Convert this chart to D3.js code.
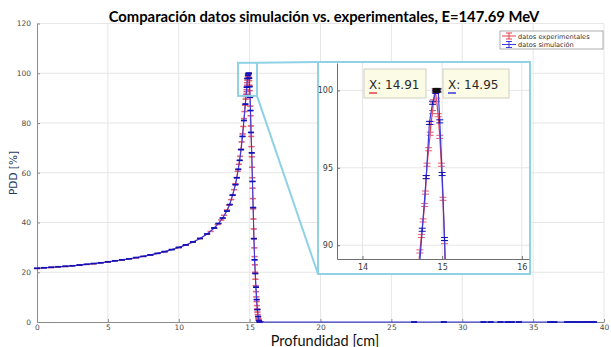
<!DOCTYPE html>
<html>
<head>
<meta charset="utf-8">
<script src="https://cdn.jsdelivr.net/npm/d3@7"></script>
<style>
  body { margin: 0; background: #fff; }
  svg { display: block; }
</style>
</head>
<body>
<svg id="chart" width="611" height="347"></svg>
<script>
// ---- data -------------------------------------------------------------
const titleText = "Comparación datos simulación vs. experimentales, E=147.69 MeV";
const xLabel = "Profundidad [cm]";
const yLabel = "PDD [%]";
const seriesNames = ["datos experimentales", "datos simulación"];

const xTicks = [0, 5, 10, 15, 20, 25, 30, 35, 40];
const yTicks = [0, 20, 40, 60, 80, 100, 120];
const insetXTicks = [14, 15, 16];
const insetYTicks = [90, 95, 100];

// measured depth-dose curve (depth in cm, dose in %)
const expDepth = [0,1,2,3,4,5,6,7,8,9,10,10.5,11,11.5,12,12.25,12.5,12.75,13.0,13.2,13.4,13.55,13.7,13.8,13.9,14.0,
  14.08,14.16,14.24,14.32,14.38,14.44,14.5,14.55,14.6,14.64,14.68,14.72,14.74,14.76,14.78,14.79,14.8,14.81,14.83,14.85,
  14.86,14.88,14.89,14.91,14.93,14.95,14.97,14.99,15.01,15.03,15.05,15.07,15.09,15.11,15.13,15.15,15.17,15.19,15.21,
  15.23,15.25,15.27,15.29,15.31,15.33,15.35,15.37,15.39,15.41,15.43,15.45,15.47,15.49,15.51,15.53,15.55,15.57,15.59,
  15.61,15.63,15.65,15.7,15.8];
const expPdd = [21.5,21.9,22.3,22.8,23.4,24.1,24.9,25.8,26.9,28.2,29.9,30.9,32.1,33.5,35.3,36.4,37.7,39.2,41.0,42.9,45.0,
  47.0,49.2,51.0,53.2,55.6,58.0,60.6,63.4,66.6,69.4,72.4,75.6,78.6,81.8,84.6,87.2,89.6,90.6,91.6,92.6,93.4,94.4,95.2,
  96.2,97.2,97.9,98.6,99.3,100.0,99.4,98.4,97.0,95.2,93.0,90.2,86.8,82.9,78.8,74.6,70.5,66.4,62.2,58.0,53.8,49.6,45.5,
  41.4,37.4,33.5,29.8,26.3,23.0,20.0,17.2,14.6,12.2,10.1,8.2,6.6,5.2,4.0,3.0,2.2,1.5,1.0,0.6,0.3,0.1];
const expErr = 0.1;

// simulated depth-dose curve
const simDepth = [0,0.5,1,1.5,2,2.5,3,3.5,4,4.5,5,5.5,6,6.5,7,7.5,8,8.5,9,9.5,10,10.5,11,11.5,12,12.5,12.8,13.1,13.4,
  13.6,13.8,14.0,14.1,14.2,14.3,14.4,14.5,14.6,14.7,14.75,14.8,14.84,14.88,14.92,14.95,14.97,15.0,15.03,15.06,15.1,
  15.15,15.2,15.25,15.3,15.35,15.4,15.45,15.5,15.55,15.6,15.65,15.7,
  26.6,28.7,31.5,32.0,32.7,33.2,33.5,34.0,36.2,36.5,37.4,37.8,38.2,38.6,39.0,39.3];
const simPdd = [21.6,21.8,22.0,22.2,22.4,22.6,22.9,23.2,23.5,23.8,24.2,24.6,25.0,25.4,25.9,26.4,27.0,27.6,28.3,29.1,
  30.0,31.0,32.2,33.6,35.4,37.8,39.6,41.8,44.6,47.2,51.0,55.2,58.0,61.4,65.0,69.3,74.6,81.0,87.6,91.0,94.4,97.9,99.2,
  99.9,100.0,98.0,94.6,90.4,85.0,76.2,68.0,56.5,46.0,33.5,25.0,19.5,14.0,9.0,5.0,2.2,0.6,0,
  0,0,0,0,0,0,0,0,0,0,0,0,0,0,0,0];
const simErr = 0.1;

// data-tip positions (peak of each curve)
const tipDepth = [14.91, 14.95];
const tipPdd = [100, 100];

// zoom window shown in the inset
const zoomX = [14.18, 15.52];
const zoomY = [90.9, 104.2];

// ---- drawing ----------------------------------------------------------
const svg = d3.select("#chart");
const C = {
  exp: "#e3404a", expBar: "#e65a70",
  sim: "#3a3ae0", simBar: "#1212b8",
  grid: "#e6e6e6", axis: "#8c8c8c", tick: "#4d4d4d",
  zoom: "#8fd2e6"
};

const x = d3.scaleLinear().domain([0, 40]).range([37, 604]);
const y = d3.scaleLinear().domain([0, 120]).range([322, 23.5]);

const expData = d3.zip(expDepth, expPdd);
const simData = d3.zip(simDepth, simPdd);

// grid
const main = svg.append("g");
main.append("g").selectAll("line").data(xTicks.slice(1)).join("line")
  .attr("x1", d => x(d)).attr("x2", d => x(d)).attr("y1", y(0)).attr("y2", y(120))
  .attr("stroke", C.grid).attr("stroke-width", 1);
main.append("g").selectAll("line").data(yTicks.slice(1)).join("line")
  .attr("x1", x(0)).attr("x2", x(40)).attr("y1", d => y(d)).attr("y2", d => y(d))
  .attr("stroke", C.grid).attr("stroke-width", 1);

// axes
const xAxis = d3.axisBottom(x).tickValues(xTicks).tickSizeInner(-3).tickSizeOuter(0).tickPadding(3);
const yAxis = d3.axisLeft(y).tickValues(yTicks).tickSizeInner(-3).tickSizeOuter(0).tickPadding(6);
function styleAxis(g) {
  g.select(".domain").attr("stroke", C.axis);
  g.selectAll(".tick line").attr("stroke", C.axis);
  g.selectAll(".tick text").attr("fill", C.tick).attr("font-family", "DejaVu Sans").attr("font-size", 7.5);
}
main.append("g").attr("transform", `translate(0,${y(0)})`).call(xAxis).call(styleAxis);
main.append("g").attr("transform", `translate(${x(0)},0)`).call(yAxis).call(styleAxis);

// one curve with error bars
function drawSeries(g, data, err, xs, ys, lineColor, barColor, lineW, capW, barW) {
  g.append("path").datum(data)
    .attr("d", d3.line().x(d => xs(d[0])).y(d => ys(d[1])))
    .attr("fill", "none").attr("stroke", lineColor).attr("stroke-width", lineW);
  const bars = g.append("g").attr("stroke", barColor).attr("stroke-width", barW);
  data.forEach(d => {
    const cx = xs(d[0]), y0 = ys(d[1] - err), y1 = ys(d[1] + err);
    bars.append("line").attr("x1", cx).attr("x2", cx).attr("y1", y0).attr("y2", y1);
    bars.append("line").attr("x1", cx - capW / 2).attr("x2", cx + capW / 2).attr("y1", y0).attr("y2", y0);
    bars.append("line").attr("x1", cx - capW / 2).attr("x2", cx + capW / 2).attr("y1", y1).attr("y2", y1);
  });
}

drawSeries(main.append("g"), expData, expErr, x, y, C.exp, C.expBar, 1, 6, 1);
drawSeries(main.append("g"), simData, simErr, x, y, C.sim, C.simBar, 1.1, 6, 1.2);

// zoom marker and connectors
const zx0 = x(zoomX[0]), zx1 = x(zoomX[1]), zy0 = y(zoomY[1]), zy1 = y(zoomY[0]);
const inset = { left: 318, top: 62, right: 530, bottom: 274 };
main.append("rect").attr("x", zx0).attr("y", zy0).attr("width", zx1 - zx0).attr("height", zy1 - zy0)
  .attr("fill", "none").attr("stroke", C.zoom).attr("stroke-width", 2);
main.append("line").attr("x1", zx1).attr("y1", zy0).attr("x2", inset.left).attr("y2", inset.top)
  .attr("stroke", C.zoom).attr("stroke-width", 2);
main.append("line").attr("x1", zx1).attr("y1", zy1).attr("x2", inset.left).attr("y2", inset.bottom)
  .attr("stroke", C.zoom).attr("stroke-width", 2);

// ---- inset ------------------------------------------------------------
const ig = svg.append("g");
ig.append("rect").attr("x", inset.left).attr("y", inset.top)
  .attr("width", inset.right - inset.left).attr("height", inset.bottom - inset.top)
  .attr("fill", "#fff").attr("stroke", C.zoom).attr("stroke-width", 2);

const ix = d3.scaleLinear().domain([13.68, 16.09]).range([337, 529]);
const iy = d3.scaleLinear().domain([89.11, 101.77]).range([259, 63]);

ig.append("g").selectAll("line").data(insetXTicks).join("line")
  .attr("x1", d => ix(d)).attr("x2", d => ix(d)).attr("y1", iy.range()[0]).attr("y2", iy.range()[1])
  .attr("stroke", C.grid);
ig.append("g").selectAll("line").data(insetYTicks).join("line")
  .attr("x1", ix.range()[0]).attr("x2", ix.range()[1]).attr("y1", d => iy(d)).attr("y2", d => iy(d))
  .attr("stroke", C.grid);

const ixAxis = d3.axisBottom(ix).tickValues(insetXTicks).tickFormat(d3.format("d"))
  .tickSizeInner(-3).tickSizeOuter(0).tickPadding(5);
const iyAxis = d3.axisLeft(iy).tickValues(insetYTicks).tickFormat(d3.format("d"))
  .tickSizeInner(-3).tickSizeOuter(0).tickPadding(4);
function styleInsetAxis(g) {
  g.select(".domain").attr("stroke", "#6e6e6e");
  g.selectAll(".tick line").attr("stroke", "#6e6e6e");
  g.selectAll(".tick text").attr("fill", "#3a3a3a").attr("font-family", "DejaVu Sans").attr("font-size", 8);
}
ig.append("g").attr("transform", `translate(0,${iy.range()[0]})`).call(ixAxis).call(styleInsetAxis);
ig.append("g").attr("transform", `translate(${ix.range()[0]},0)`).call(iyAxis).call(styleInsetAxis);

svg.append("defs").append("clipPath").attr("id", "insetClip").append("rect")
  .attr("x", ix.range()[0]).attr("y", iy.range()[1])
  .attr("width", ix.range()[1] - ix.range()[0]).attr("height", iy.range()[0] - iy.range()[1]);
const idata = ig.append("g").attr("clip-path", "url(#insetClip)");
drawSeries(idata.append("g"), expData, expErr, ix, iy, C.exp, C.expBar, 1.2, 7, 1);
drawSeries(idata.append("g"), simData, simErr, ix, iy, C.sim, C.simBar, 1.2, 7, 1);

// data tips
idata.selectAll("rect.tipmark").data(d3.zip(tipDepth, tipPdd)).join("rect")
  .attr("class", "tipmark")
  .attr("x", d => ix(d[0]) - 2.5).attr("y", d => iy(d[1]) - 2.5).attr("width", 5).attr("height", 5)
  .attr("fill", "#111");

const tipBoxes = [
  { x: 364, w: 62, color: C.exp, depth: tipDepth[0] },
  { x: 443, w: 66, color: C.sim, depth: tipDepth[1] }
];
tipBoxes.forEach(b => {
  const t = ig.append("g");
  t.append("rect").attr("x", b.x).attr("y", 69).attr("width", b.w).attr("height", 29)
    .attr("fill", "#fbfbe6").attr("stroke", "#cfcfc4").attr("stroke-width", 1);
  t.append("text").attr("x", b.x + 5).attr("y", 89)
    .attr("font-family", "DejaVu Sans").attr("font-size", 12).attr("fill", "#2a2a2a")
    .text(`X: ${b.depth.toFixed(2)}`);
  t.append("line").attr("x1", b.x + 5).attr("x2", b.x + 13).attr("y1", 93).attr("y2", 93)
    .attr("stroke", b.color).attr("stroke-width", 1.5);
});

// ---- legend -----------------------------------------------------------
const lg = svg.append("g").attr("transform", "translate(500,31)");
lg.append("rect").attr("width", 103).attr("height", 18).attr("fill", "#fff")
  .attr("stroke", "#9a9a9a").attr("stroke-width", 0.8);
[[C.exp, C.expBar], [C.sim, C.simBar]].forEach((c, i) => {
  const cy = 5 + i * 8.5;
  const e = lg.append("g");
  e.append("line").attr("x1", 2).attr("x2", 16).attr("y1", cy).attr("y2", cy).attr("stroke", c[0]);
  e.append("line").attr("x1", 9).attr("x2", 9).attr("y1", cy - 3).attr("y2", cy + 3).attr("stroke", c[0]);
  e.append("line").attr("x1", 6).attr("x2", 12).attr("y1", cy - 3).attr("y2", cy - 3).attr("stroke", c[0]);
  e.append("line").attr("x1", 6).attr("x2", 12).attr("y1", cy + 3).attr("y2", cy + 3).attr("stroke", c[0]);
  e.append("text").attr("x", 18).attr("y", cy + 2.5)
    .attr("font-family", "DejaVu Sans").attr("font-size", 6.6).attr("fill", "#333")
    .text(seriesNames[i]);
});

// ---- titles -----------------------------------------------------------
svg.append("text").attr("x", 324).attr("y", 22).attr("text-anchor", "middle")
  .attr("font-family", "Lato").attr("font-weight", "bold").attr("font-size", 14.8).attr("fill", "#000")
  .text(titleText);
svg.append("text").attr("x", 325).attr("y", 345.5).attr("text-anchor", "middle")
  .attr("font-family", "Lato").attr("font-size", 14.5).attr("fill", "#111")
  .text(xLabel);
svg.append("text").attr("transform", "translate(17,173) rotate(-90)").attr("text-anchor", "middle")
  .attr("font-family", "DejaVu Sans").attr("font-size", 10.5).attr("fill", "#1f3a66")
  .text(yLabel);
</script>
</body>
</html>
